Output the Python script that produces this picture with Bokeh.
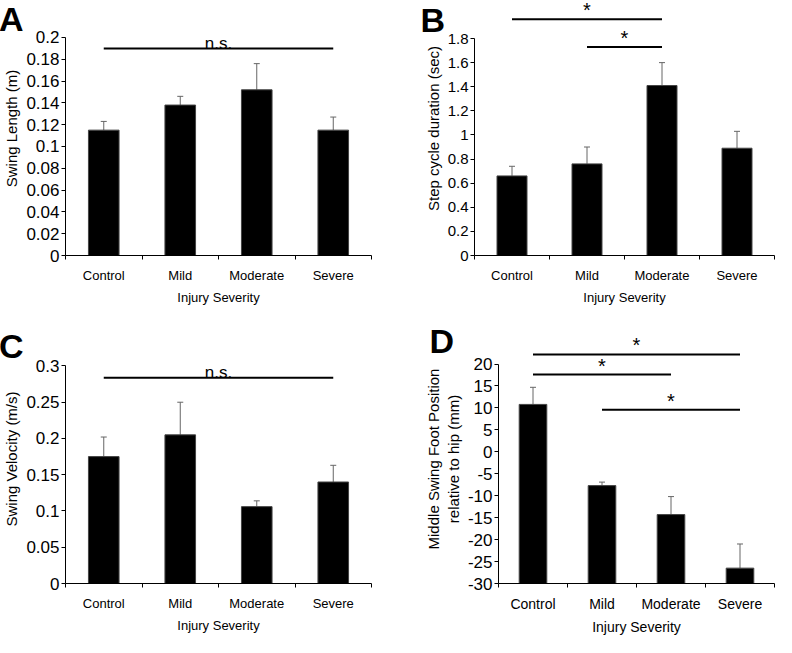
from bokeh.plotting import figure
from bokeh.models import (Range1d, FixedTicker, NumeralTickFormatter, ColumnDataSource,
                          Whisker, TeeHead, Label)
from bokeh.layouts import column, row
from bokeh.embed import file_html
from bokeh.resources import INLINE
from bokeh.core.properties import value

# ---------------- data ----------------
categories = ["Control", "Mild", "Moderate", "Severe"]

a_mean = [0.115, 0.138, 0.152, 0.115]
a_err_top = [0.123, 0.146, 0.176, 0.127]
a_ticks = [0, 0.02, 0.04, 0.06, 0.08, 0.1, 0.12, 0.14, 0.16, 0.18, 0.2]
a_sig = [("Control", "Severe", 0.190, "n.s.")]

b_mean = [0.66, 0.76, 1.41, 0.89]
b_err_top = [0.74, 0.90, 1.60, 1.03]
b_ticks = [0, 0.2, 0.4, 0.6, 0.8, 1, 1.2, 1.4, 1.6, 1.8]
b_sig = [("Control", "Moderate", 1.96, "*"), ("Mild", "Moderate", 1.73, "*")]

c_mean = [0.175, 0.205, 0.106, 0.140]
c_err_top = [0.202, 0.250, 0.114, 0.163]
c_ticks = [0, 0.05, 0.1, 0.15, 0.2, 0.25, 0.3]
c_sig = [("Control", "Severe", 0.2836, "n.s.")]

d_mean = [10.8, -7.7, -14.3, -26.5]
d_err_top = [14.7, -6.9, -10.2, -21.0]
d_ticks = [-30, -25, -20, -15, -10, -5, 0, 5, 10, 15, 20]
d_sig = [("Control", "Severe", 22.2, "*"), ("Control", "Moderate", 17.6, "*"),
         ("Mild", "Severe", 9.6, "*")]

FONT = "Liberation Sans"


def panel(mean, err_top, ticks, fmt, y_end, sig, ylabel, letter, letter_xy, letter_side,
          width, height, mb_left, mb_right, mb_top, mb_bottom,
          tick_size, ylabel_size, cat_size, xlabel_size):
    n = len(categories)
    centers = [i + 0.5 for i in range(n)]
    y_lo = ticks[0]
    p = figure(width=width, height=height, x_range=Range1d(0, n),
               y_range=Range1d(y_lo, y_end), output_backend="svg",
               toolbar_location=None, min_border_left=mb_left,
               min_border_right=mb_right, min_border_top=mb_top,
               min_border_bottom=mb_bottom)
    p.outline_line_color = None
    p.xgrid.visible = False
    p.ygrid.visible = False

    src = ColumnDataSource(dict(x=centers, mean=mean, top=err_top))
    p.vbar(x="x", top="mean", bottom=y_lo, width=0.4, source=src,
           fill_color="black", line_color="#444444")
    p.add_layout(Whisker(source=src, base="x", lower="mean", upper="top",
                         line_color="#666666", line_width=1,
                         lower_head=None,
                         upper_head=TeeHead(size=6, line_color="#666666", line_width=1)))

    # significance bars
    for c0, c1, yv, txt in sig:
        x0 = categories.index(c0) + 0.5
        x1 = categories.index(c1) + 0.5
        p.segment(x0=[x0], y0=[yv], x1=[x1], y1=[yv], line_color="black", line_width=2)
        is_star = txt == "*"
        p.text(x=[(x0 + x1) / 2], y=[yv], text=[txt], text_font=value(FONT),
               text_font_size="20px" if is_star else "17px", text_align="center",
               text_baseline="alphabetic", y_offset=-9 if is_star else -5,
               text_color="black")

    # x axis
    xa = p.xaxis[0]
    xa.ticker = FixedTicker(ticks=centers, minor_ticks=list(range(n + 1)))
    xa.major_label_overrides = {c: lab for c, lab in zip(centers, categories)}
    xa.major_tick_out = 0
    xa.major_tick_in = 0
    xa.minor_tick_out = 4
    xa.minor_tick_in = 0
    xa.minor_tick_line_color = "black"
    xa.major_label_standoff = 8
    xa.major_label_text_font = FONT
    xa.major_label_text_font_size = cat_size
    xa.major_label_text_color = "black"
    xa.axis_label = "Injury Severity"
    xa.axis_label_text_font = FONT
    xa.axis_label_text_font_size = xlabel_size
    xa.axis_label_text_font_style = "normal"
    xa.axis_label_text_color = "black"
    xa.axis_label_standoff = 4
    xa.axis_line_color = "black"

    # y axis
    ya = p.yaxis[0]
    ya.ticker = FixedTicker(ticks=ticks, minor_ticks=[])
    ya.formatter = NumeralTickFormatter(format=fmt)
    ya.bounds = (ticks[0], ticks[-1])
    ya.major_tick_out = 4
    ya.major_tick_in = 0
    ya.major_tick_line_color = "black"
    ya.major_label_standoff = 2
    ya.major_label_text_font = FONT
    ya.major_label_text_font_size = tick_size
    ya.major_label_text_color = "black"
    ya.axis_label = ylabel
    ya.axis_label_text_font = FONT
    ya.axis_label_text_font_size = ylabel_size
    ya.axis_label_text_font_style = "normal"
    ya.axis_label_text_color = "black"
    ya.axis_label_standoff = 3
    ya.axis_line_color = "black"

    # panel letter (placed in a side panel so that it is not clipped to the frame)
    p.add_layout(Label(x=letter_xy[0], y=letter_xy[1], text=letter,
                       text_font=FONT, text_font_size="34px",
                       text_font_style="bold", text_color="black",
                       text_align="left", text_baseline="alphabetic"), letter_side)
    return p


pa = panel(a_mean, a_err_top, a_ticks, "0.[00]", 0.2330, a_sig,
           "Swing Length (m)", "A", (-0.868, 0.2165), "right",
           396, 316, 59, 15, 1, 61, "17px", "15px", "13px", "13px")
pb = panel(b_mean, b_err_top, b_ticks, "0.[0]", 2.107, b_sig,
           "Step cycle duration (sec)", "B", (-0.72, 1.9575), "left",
           380, 316, 73, 2, 1, 61, "15px", "15px", "13px", "13px")
pc = panel(c_mean, c_err_top, c_ticks, "0.[00]", 0.3434, c_sig,
           "Swing Velocity (m/s)", "C", (-0.868, 0.3271), "right",
           396, 321, 59, 15, 18, 50, "17px", "15px", "13px", "13px")
pd = panel(d_mean, d_err_top, d_ticks, "0", 26.73, d_sig,
           "Middle Swing Foot Position\nrelative to hip (mm)", "D", (-1.0, 25.16), "left",
           380, 321, 86, 2, 18, 50, "17px", "15px", "14px", "14px")

layout = column(row(pa, pb), row(pc, pd))

open("out.html", "w").write(file_html(layout, INLINE))
